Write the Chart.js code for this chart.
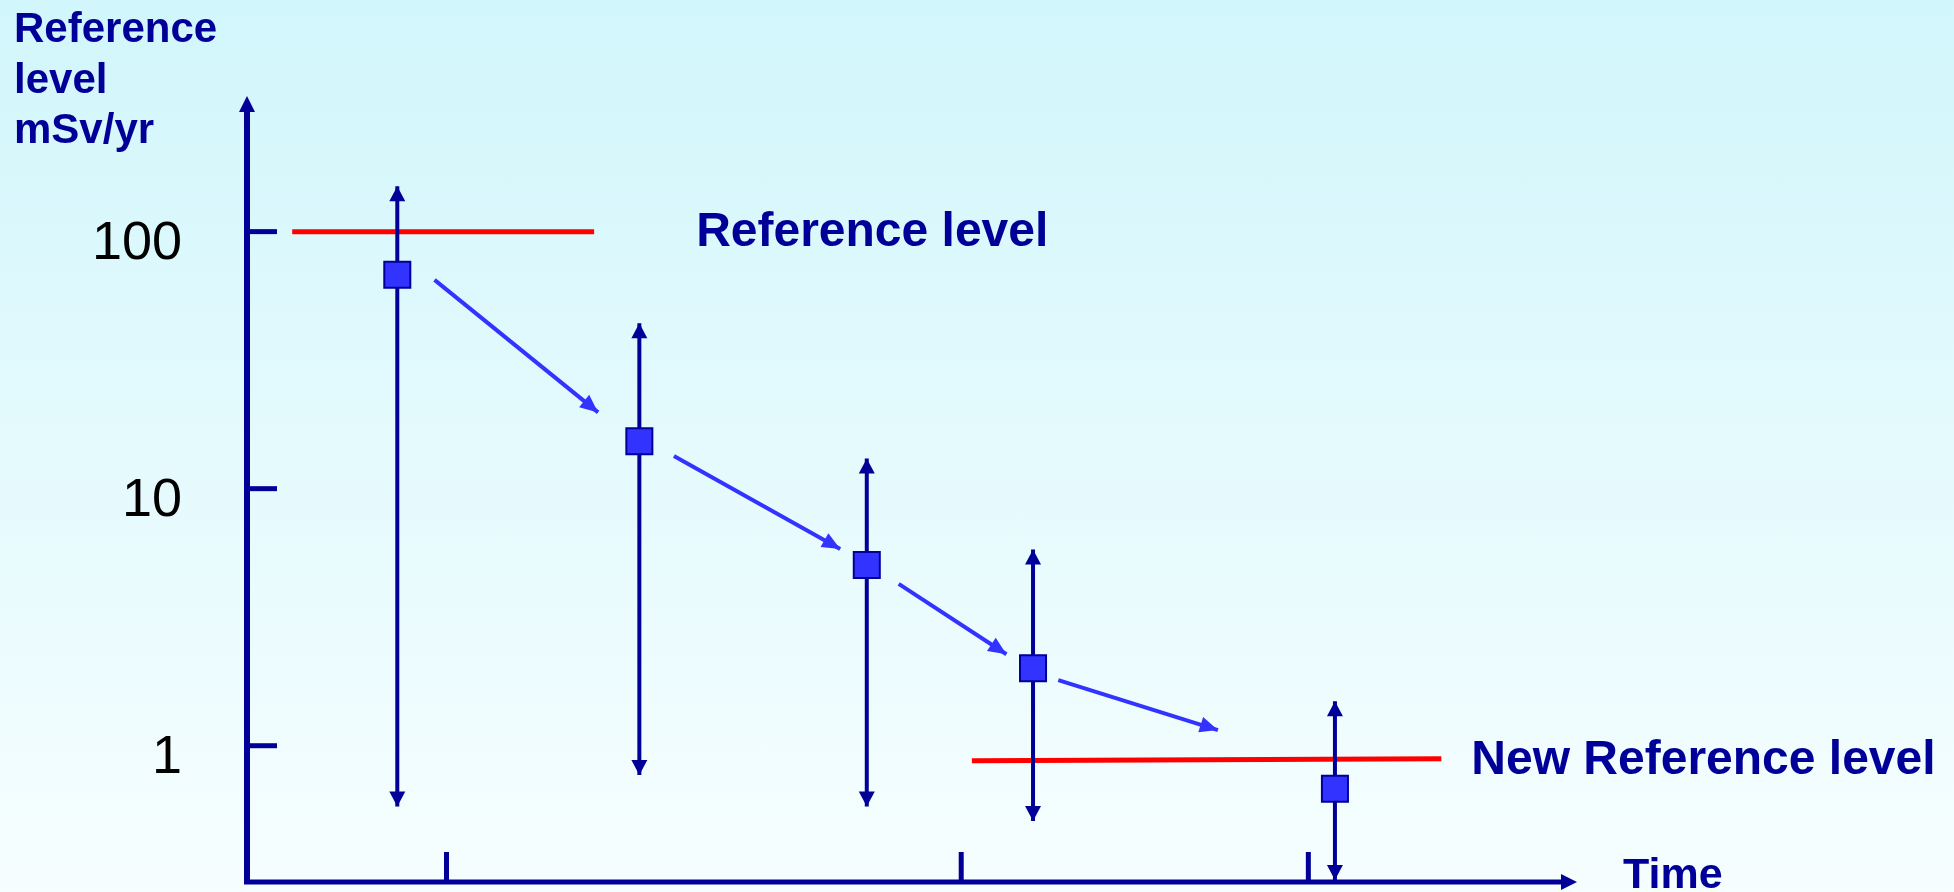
<!DOCTYPE html>
<html>
<head>
<meta charset="utf-8">
<title>Reference level over time</title>
<script src="https://cdn.jsdelivr.net/npm/chart.js@4.4.1/dist/chart.umd.min.js"></script>
<style>
  html, body { margin: 0; padding: 0; }
  body {
    width: 1954px; height: 892px; overflow: hidden;
    background: linear-gradient(to bottom, #d1f6fb 0%, #e4fafd 50%, #f6feff 100%);
  }
  #wrap { position: relative; width: 1954px; height: 892px; }
</style>
</head>
<body>
<div id="wrap"><canvas id="refChart" width="1954" height="892"></canvas></div>
<script>
// time has no units on the slide, so it runs 0..100; dose axis is log mSv/yr
var timeRange = [0, 100];
var doseRange = [0.295, 337];
var yTickValues = [1, 10, 100];
var yTickLabels = ['1', '10', '100'];
var xTickValues = [15.0, 53.7, 79.8];

// the five steps: square = level, arrows = spread up / down
var stepTimes = [11.3, 29.5, 46.6, 59.1, 81.8];
var stepLevels = [68, 15.3, 5.05, 2.0, 0.68];
var stepHigh = [150, 44, 13.1, 5.8, 1.49];
var stepLow = [0.58, 0.77, 0.58, 0.51, 0.30];

// red lines
var refLevelX = [3.4, 26.1];
var refLevelY = [100, 100];
var newRefLevelX = [54.5, 89.8];
var newRefLevelY = [0.875, 0.89];

// blue trend arrows between the steps
var trendFromX = [14.1, 32.1, 49.0, 61.0];
var trendFromY = [64.9, 13.4, 4.26, 1.80];
var trendToX = [26.4, 44.6, 57.1, 73.0];
var trendToY = [19.8, 5.83, 2.27, 1.15];

var yAxisTitle = ['Reference', 'level', 'mSv/yr'];
var xAxisTitle = 'Time';
var refLabel = 'Reference level';
var newRefLabel = 'New Reference level';

var NAVY = '#000099';
var BLUE = '#3333ff';
var RED = '#ff0000';
var FONT = "'Liberation Sans', Arial, sans-serif";


function arrowHead(ctx, x1, y1, x2, y2, len, half, color) {
  var a = Math.atan2(y2 - y1, x2 - x1);
  var bx = x2 - len * Math.cos(a);
  var by = y2 - len * Math.sin(a);
  ctx.save();
  ctx.fillStyle = color;
  ctx.beginPath();
  ctx.moveTo(x2, y2);
  ctx.lineTo(bx + half * Math.sin(a), by - half * Math.cos(a));
  ctx.lineTo(bx - half * Math.sin(a), by + half * Math.cos(a));
  ctx.closePath();
  ctx.fill();
  ctx.restore();
}

function pts(xs, ys) {
  return xs.map(function (x, i) { return { x: x, y: ys[i] }; });
}


// ===============================================================================================

var datasets = [];

datasets.push({
  label: 'level',
  data: pts(stepTimes, stepLevels),
  showLine: false,
  pointStyle: 'rect',
  pointRadius: 18.4,
  pointHoverRadius: 18.4,
  backgroundColor: BLUE,
  borderColor: NAVY,
  borderWidth: 2,
  order: 0
});

for (var i = 0; i < stepTimes.length; i++) {
  datasets.push({
    label: 'range ' + (i + 1),
    data: pts([stepTimes[i], stepTimes[i]], [stepLow[i], stepHigh[i]]),
    showLine: true,
    borderColor: NAVY,
    borderWidth: 4,
    pointRadius: 0,
    order: 1
  });
}

for (var j = 0; j < trendFromX.length; j++) {
  datasets.push({
    label: 'trend ' + (j + 1),
    data: pts([trendFromX[j], trendToX[j]], [trendFromY[j], trendToY[j]]),
    showLine: true,
    borderColor: BLUE,
    borderWidth: 4,
    pointRadius: 0,
    order: 2
  });
}

datasets.push({
  label: refLabel,
  data: pts(refLevelX, refLevelY),
  showLine: true,
  borderColor: RED,
  borderWidth: 5,
  pointRadius: 0,
  order: 3
});

datasets.push({
  label: newRefLabel,
  data: pts(newRefLevelX, newRefLevelY),
  showLine: true,
  borderColor: RED,
  borderWidth: 5,
  pointRadius: 0,
  order: 3
});


// ===============================================================================================

// axes with arrows, inward ticks, and all the slide text
var slidePlugin = {
  id: 'slide',
  beforeDatasetsDraw: function (chart) {
    var ctx = chart.ctx;
    var area = chart.chartArea;
    var xs = chart.scales.x;
    var ys = chart.scales.y;

    ctx.save();
    ctx.strokeStyle = NAVY;
    ctx.lineCap = 'butt';

    // y axis
    ctx.lineWidth = 6;
    ctx.beginPath();
    ctx.moveTo(area.left, area.bottom + 2);
    ctx.lineTo(area.left, area.top + 12);
    ctx.stroke();
    arrowHead(ctx, area.left, area.bottom, area.left, area.top, 16, 8, NAVY);

    // x axis
    ctx.lineWidth = 5;
    ctx.beginPath();
    ctx.moveTo(area.left - 3, area.bottom);
    ctx.lineTo(area.right - 12, area.bottom);
    ctx.stroke();
    arrowHead(ctx, area.left, area.bottom, area.right, area.bottom, 16, 8, NAVY);

    // ticks point into the plot
    ctx.lineWidth = 5;
    yTickValues.forEach(function (v) {
      var py = ys.getPixelForValue(v);
      ctx.beginPath();
      ctx.moveTo(area.left, py);
      ctx.lineTo(area.left + 30, py);
      ctx.stroke();
    });
    xTickValues.forEach(function (v) {
      var px = xs.getPixelForValue(v);
      ctx.beginPath();
      ctx.moveTo(px, area.bottom);
      ctx.lineTo(px, area.bottom - 30);
      ctx.stroke();
    });

    // tick labels
    ctx.fillStyle = '#000000';
    ctx.font = '54px ' + FONT;
    ctx.textAlign = 'right';
    ctx.textBaseline = 'alphabetic';
    yTickValues.forEach(function (v, k) {
      ctx.fillText(yTickLabels[k], area.left - 65, ys.getPixelForValue(v) + 27);
    });
    ctx.restore();
  },
  afterDatasetsDraw: function (chart) {
    var ctx = chart.ctx;
    var area = chart.chartArea;
    var xs = chart.scales.x;
    var ys = chart.scales.y;

    // arrow tips on the ranges
    stepTimes.forEach(function (t, k) {
      var px = xs.getPixelForValue(t);
      var pm = ys.getPixelForValue(stepLevels[k]);
      arrowHead(ctx, px, pm, px, ys.getPixelForValue(stepHigh[k]), 15, 8, NAVY);
      arrowHead(ctx, px, pm, px, ys.getPixelForValue(stepLow[k]), 15, 8, NAVY);
    });

    // trend arrow tips
    trendFromX.forEach(function (x, k) {
      arrowHead(ctx,
        xs.getPixelForValue(x), ys.getPixelForValue(trendFromY[k]),
        xs.getPixelForValue(trendToX[k]), ys.getPixelForValue(trendToY[k]),
        18, 8, BLUE);
    });

    ctx.save();
    ctx.fillStyle = NAVY;
    ctx.textAlign = 'left';
    ctx.textBaseline = 'alphabetic';

    ctx.font = 'bold 48px ' + FONT;
    ctx.fillText(refLabel, xs.getPixelForValue(refLevelX[1]) + 102, ys.getPixelForValue(refLevelY[1]) + 14);
    ctx.fillText(newRefLabel, xs.getPixelForValue(newRefLevelX[1]) + 30, ys.getPixelForValue(newRefLevelY[1]) + 15);

    ctx.font = 'bold 43px ' + FONT;
    ctx.fillText(xAxisTitle, area.right + 46, area.bottom + 6);

    ctx.font = 'bold 42px ' + FONT;
    yAxisTitle.forEach(function (line, k) {
      ctx.fillText(line, 14, 42 + k * 50.7);
    });
    ctx.restore();
  }
};


new Chart(document.getElementById('refChart'), {
  type: 'scatter',
  data: { datasets: datasets },
  options: {
    responsive: false,
    devicePixelRatio: 1,
    animation: false,
    events: [],
    clip: false,
    // autoPadding would push the bottom up to make room for the squares
    layout: { autoPadding: false, padding: { left: 247, top: 96, right: 377, bottom: 10 } },
    scales: {
      x: { type: 'linear', min: timeRange[0], max: timeRange[1], display: false },
      y: { type: 'logarithmic', min: doseRange[0], max: doseRange[1], display: false }
    },
    plugins: {
      legend: { display: false },
      tooltip: { enabled: false },
      title: { display: false }
    }
  },
  plugins: [slidePlugin]
});
</script>
</body>
</html>
